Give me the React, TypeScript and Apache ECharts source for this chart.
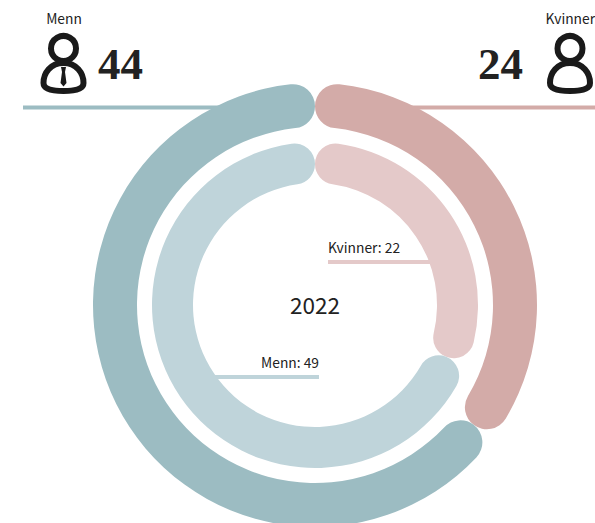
import React, { useEffect, useRef } from "react";
import * as echarts from "echarts";

const yearLabel = "2022";
const categories = ["Kvinner", "Menn"];
const outerValues = [24, 44];
const innerValues = [22, 49];
const outerColors = ["#D3ABA8", "#9CBCC2"];
const innerColors = ["#E4C9C9", "#BFD4DA"];
const sansFont = '"Noto Sans CJK SC", "Noto Sans", sans-serif';
const numberFont = '"Liberation Serif", serif';
const ink = "#222222";

const bodyPath =
  "M20 0 C7 0 0 10 0 20 C0 27 11 28 20 28 C29 28 40 27 40 20 C40 10 33 0 20 0 Z";
echarts.graphic.registerShape("personBody", (echarts.graphic as any).extendPath(bodyPath, {}));

function person(cx: number, withTie: boolean) {
  const els: any[] = [
    { type: "circle", z: 10, shape: { cx, cy: 48.5, r: 12.5 }, style: { fill: "none", stroke: "#1a1a1a", lineWidth: 6 } },
    {
      type: "personBody",
      z: 10,
      x: cx - 20,
      y: 63,
      style: { fill: "none", stroke: "#1a1a1a", lineWidth: 6 },
    },
  ];
  if (withTie) {
    els.push({
      type: "polygon",
      z: 10,
      shape: {
        points: [
          [cx - 2.5, 67],
          [cx + 2.5, 67],
          [cx + 1.5, 72],
          [cx + 3, 83],
          [cx, 86.5],
          [cx - 3, 83],
          [cx - 1.5, 72],
        ],
      },
      style: { fill: "#1a1a1a" },
    });
  }
  return els;
}

function rule(x1: number, x2: number, y: number, color: string) {
  return { type: "rect", z: 0, shape: { x: x1, y: y - 2, width: x2 - x1, height: 4 }, style: { fill: color } };
}

function label(text: string, x: number, y: number, align: string, size: number, font = sansFont, weight = "normal") {
  return {
    type: "text",
    z: 10,
    x,
    y,
    style: { text, fill: ink, font: `${weight} ${size}px ${font}`, align, verticalAlign: "middle" },
  };
}

function ring(values: number[], colors: string[], inner: number, outer: number) {
  return {
    type: "pie",
    center: [315, 305],
    radius: [inner, outer],
    startAngle: 90,
    clockwise: true,
    silent: true,
    z: 5,
    label: { show: false },
    labelLine: { show: false },
    itemStyle: { borderRadius: (outer - inner) / 2, borderWidth: 0 },
    data: categories.map((name, i) => ({ name, value: values[i], itemStyle: { color: colors[i] } })),
  };
}

export default function App() {
  const ref = useRef<HTMLDivElement>(null);
  useEffect(() => {
    document.body.style.margin = "0";
    const chart = echarts.init(ref.current!, null, { renderer: "svg" });
    chart.setOption({
      animation: false,
      backgroundColor: "#ffffff",
      series: [ring(outerValues, outerColors, 178, 222), ring(innerValues, innerColors, 122, 163)],
      graphic: {
        elements: [
          rule(23, 230, 107.5, outerColors[1]),
          rule(400, 595, 107.5, outerColors[0]),
          rule(328, 432, 262, innerColors[0]),
          rule(212, 319, 377, innerColors[1]),
          label(categories[1], 64, 18, "center", 13.8),
          label(categories[0], 595, 18, "right", 13.8),
          label(String(outerValues[1]), 98, 64, "left", 45, numberFont, "bold"),
          label(String(outerValues[0]), 478, 64, "left", 45, numberFont, "bold"),
          label(yearLabel, 315, 303.5, "center", 22.5),
          label(`${categories[0]}: ${innerValues[0]}`, 328, 247, "left", 13.8),
          label(`${categories[1]}: ${innerValues[1]}`, 319, 362, "right", 13.8),
          ...person(63.5, true),
          ...person(570, false),
        ],
      },
    });
    return () => chart.dispose();
  }, []);
  return <div ref={ref} style={{ width: 595, height: 523 }} />;
}
